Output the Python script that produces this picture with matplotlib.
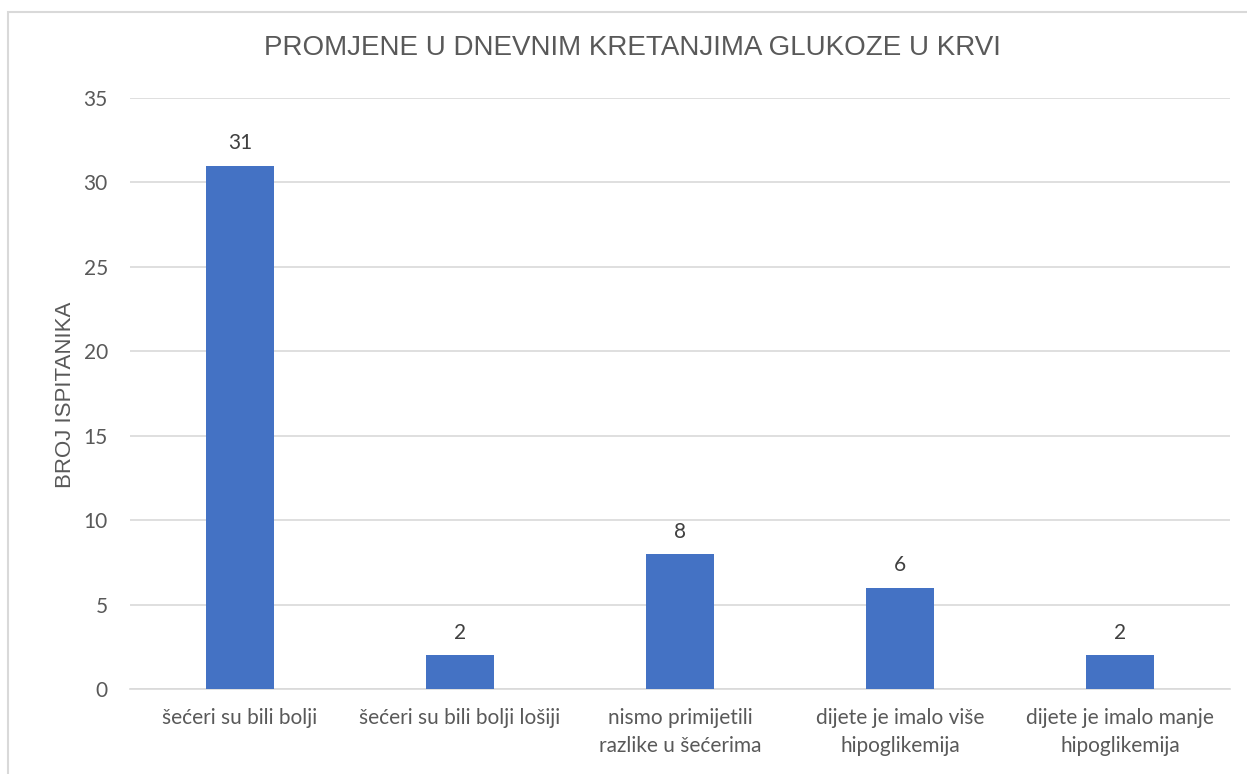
import matplotlib.pyplot as plt
from matplotlib.patches import Rectangle

# podaci s grafa
kategorije = ["šećeri su bili bolji", "šećeri su bili bolji lošiji",
              "nismo primijetili\nrazlike u šećerima", "dijete je imalo više\nhipoglikemija",
              "dijete je imalo manje\nhipoglikemija"]
vrijednosti = [31, 2, 8, 6, 2]
y_ticks = [0, 5, 10, 15, 20, 25, 30, 35]

plava = "#4472C4"
siva_tekst = "#595959"
siva_mreza = "#D9D9D9"

fig = plt.figure(figsize=(12.47, 7.74), dpi=100)
ax = fig.add_axes([130 / 1247, 85 / 774, 1100 / 1247, 591 / 774])

x = list(range(len(kategorije)))
ax.bar(x, vrijednosti, width=0.31, color=plava, zorder=3)

# oznake vrijednosti iznad stupaca
for xi, v in zip(x, vrijednosti):
    ax.annotate(str(v), (xi, v), xytext=(0, 16), textcoords="offset points",
                ha="center", va="center", fontsize=15, color="#404040", family="Lato")

ax.set_xlim(-0.5, len(kategorije) - 0.5)
ax.set_ylim(0, 35)
ax.set_yticks(y_ticks)
ax.set_xticks(x)
ax.set_xticklabels(kategorije, fontsize=15, color=siva_tekst, family="Lato", linespacing=1.45)
for lbl in ax.get_yticklabels():
    lbl.set_fontsize(15)
    lbl.set_color(siva_tekst)
    lbl.set_family("Lato")

ax.grid(axis="y", color=siva_mreza, linewidth=1.2, zorder=0)
for s in ["top", "right", "left"]:
    ax.spines[s].set_visible(False)
ax.spines["bottom"].set_color(siva_mreza)
ax.spines["bottom"].set_linewidth(1.2)
ax.tick_params(axis="both", length=0)
ax.tick_params(axis="y", pad=16)
ax.tick_params(axis="x", pad=14)

ax.set_ylabel("BROJ ISPITANIKA", fontsize=16, color=siva_tekst, family="Liberation Sans")
ax.yaxis.set_label_coords(-0.049, 0.497)

fig.text(632 / 1247, 1 - 48 / 774, "PROMJENE U DNEVNIM KRETANJIMA GLUKOZE U KRVI",
         ha="center", va="center", fontsize=20, color=siva_tekst, family="Liberation Sans")

# okvir grafikona
fig.patches.append(Rectangle((8 / 1247, -0.1), 1.2, 1 - 12 / 774 + 0.1, transform=fig.transFigure,
                             fill=False, edgecolor=siva_mreza, linewidth=1.5))

fig.savefig("out.png", dpi=100, facecolor="white")
